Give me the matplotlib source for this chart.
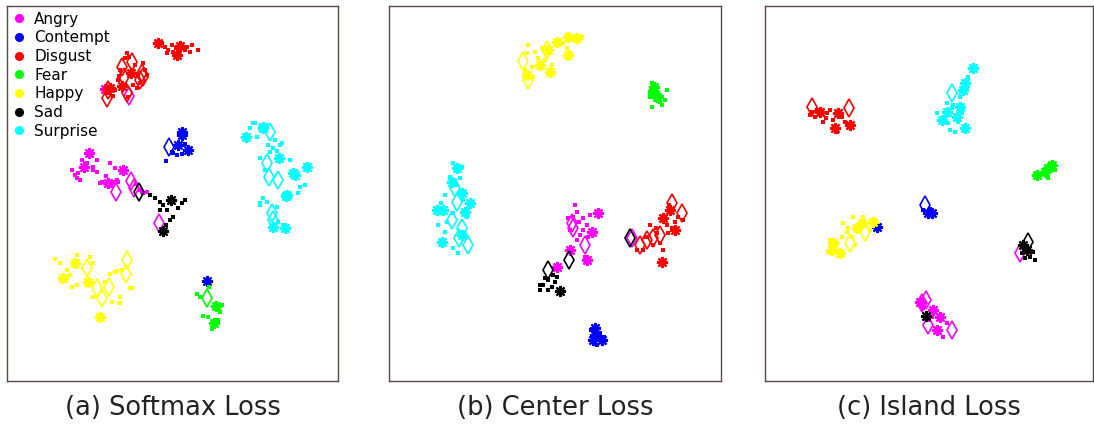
import matplotlib
matplotlib.use("Agg")
import matplotlib.pyplot as plt
from matplotlib.lines import Line2D

classes = ["Angry", "Contempt", "Disgust", "Fear", "Happy", "Sad", "Surprise"]
colors = ["#ff00ff", "#0000ff", "#ff0000", "#00ff00", "#ffff00", "#000000", "#00ffff"]
titles = ["(a) Softmax Loss", "(b) Center Loss", "(c) Island Loss"]

# 2-D embedding (x to the right, y downwards)
# --- (a) softmax loss ---
softmax_dot = {
    "Angry": [(72, 170), (75, 175), (80, 180), (97, 160), (93, 167), (100, 183), (110, 163),
              (115, 168), (118, 182), (140, 190), (143, 193), (78, 173), (97, 172), (87, 163),
              (117, 180), (77, 178), (93, 170), (102, 182), (113, 182), (142, 192), (147, 192),
              (82, 160), (106, 176), (111, 186), (136, 184)],
    "Contempt": [(173, 153), (177, 155), (182, 154), (166, 161), (172, 152), (185, 144)],
    "Disgust": [(165, 47), (168, 50), (172, 45), (187, 47), (192, 45), (198, 50), (173, 52),
                (185, 50), (162, 43), (167, 53), (127, 53), (125, 58), (120, 70), (118, 80),
                (135, 65), (143, 63), (140, 83), (137, 88), (133, 85), (108, 93), (115, 90),
                (128, 97), (147, 75), (129, 57), (119, 76), (145, 70), (138, 76), (176, 48),
                (190, 52), (113, 96)],
    "Fear": [(197, 294), (200, 297), (209, 287), (222, 305), (220, 312), (203, 316), (208, 317),
             (212, 329), (218, 320)],
    "Happy": [(55, 259), (60, 263), (67, 270), (77, 255), (90, 257), (93, 263), (72, 287),
              (115, 272), (122, 270), (110, 274), (130, 288), (120, 297), (120, 303), (112, 302),
              (93, 297), (77, 285), (117, 271), (132, 288), (119, 303), (70, 275), (105, 282)],
    "Sad": [(150, 195), (155, 198), (160, 202), (163, 205), (167, 210), (173, 217), (182, 203),
            (185, 200), (160, 210), (170, 220), (178, 208), (166, 225)],
    "Surprise": [(253, 123), (257, 137), (260, 158), (275, 140), (280, 145), (273, 148), (270, 152),
                 (300, 187), (305, 185), (298, 193), (263, 198), (260, 203), (267, 202), (278, 222),
                 (283, 225), (265, 170), (277, 151), (282, 143), (255, 123), (307, 165), (260, 205),
                 (250, 128), (268, 145), (290, 160), (277, 207)],
}
softmax_star = {
    "Angry": [(89, 153), (84, 167), (123, 170), (108, 183), (105, 89)],
    "Contempt": [(182, 132), (182, 135), (178, 145), (188, 150), (207, 281)],
    "Disgust": [(158, 43), (180, 46), (177, 55), (131, 73), (122, 86), (110, 88)],
    "Fear": [(216, 306), (214, 323)],
    "Happy": [(75, 263), (63, 278), (88, 282), (100, 317)],
    "Sad": [(171, 200), (163, 231)],
    "Surprise": [(246, 137), (263, 128), (279, 158), (295, 175), (287, 195), (273, 227),
                 (285, 228), (307, 167), (263, 127), (293, 173), (286, 196)],
}
softmax_diam = {
    "Angry": [(131, 181), (116, 192), (134, 188), (129, 96), (159, 223)],
    "Contempt": [(169, 147)],
    "Disgust": [(132, 62), (122, 67), (124, 77), (142, 73), (140, 80), (108, 90), (107, 98),
                (127, 93), (143, 77)],
    "Fear": [(207, 298)],
    "Happy": [(87, 268), (127, 260), (126, 274), (97, 288), (109, 287), (102, 298)],
    "Sad": [(139, 192)],
    "Surprise": [(270, 132), (267, 163), (269, 177), (278, 180), (272, 213), (273, 220)],
}

# --- (b) center loss ---
center_dot = {
    "Angry": [(575, 205), (577, 212), (568, 218), (583, 218), (587, 225), (580, 235), (588, 237),
              (577, 240), (583, 230), (585, 257), (573, 217), (590, 215), (570, 230), (579, 222)],
    "Contempt": [(591, 330), (600, 333), (597, 345), (604, 337)],
    "Disgust": [(650, 225), (667, 225), (678, 217), (683, 220), (668, 233), (657, 233), (660, 243),
                (663, 250), (637, 250), (643, 250), (653, 245), (675, 222), (669, 205),
                (646, 237), (656, 228), (672, 228)],
    "Fear": [(652, 83), (653, 90), (650, 97), (657, 100), (662, 97), (667, 90), (665, 100),
             (652, 107), (662, 105), (658, 93), (655, 88), (660, 102), (650, 92)],
    "Happy": [(528, 45), (527, 53), (535, 52), (542, 48), (532, 67), (552, 65), (563, 43),
              (567, 48), (570, 53), (538, 58), (525, 70), (533, 77), (582, 37), (545, 60)],
    "Sad": [(540, 290), (543, 285), (548, 280), (553, 275), (555, 282), (552, 287), (545, 278),
            (540, 285), (548, 290), (557, 277)],
    "Surprise": [(453, 163), (462, 167), (450, 177), (460, 178), (445, 195), (463, 200), (438, 225),
                 (445, 232), (453, 248), (458, 253), (467, 217), (447, 222), (453, 213),
                 (456, 185), (441, 203)],
}
center_star = {
    "Angry": [(598, 213), (592, 232), (570, 250), (587, 260), (557, 267)],
    "Contempt": [(595, 328), (593, 340), (602, 340), (595, 335)],
    "Disgust": [(663, 218), (675, 230), (662, 262), (670, 210)],
    "Fear": [(653, 93), (657, 97), (654, 87)],
    "Happy": [(557, 42), (577, 38), (568, 37), (540, 65), (550, 72), (568, 55), (548, 50), (527, 75)],
    "Sad": [(560, 291)],
    "Surprise": [(457, 168), (452, 182), (462, 193), (437, 210), (443, 210), (470, 203), (465, 212),
                 (442, 242), (462, 235)],
}
center_diam = {
    "Angry": [(573, 228), (585, 245), (572, 223), (632, 238)],
    "Contempt": [],
    "Disgust": [(672, 203), (640, 245), (653, 238), (647, 240), (660, 235), (682, 213)],
    "Fear": [],
    "Happy": [(523, 61), (528, 80), (547, 50)],
    "Sad": [(569, 260), (548, 270), (630, 238)],
    "Surprise": [(455, 188), (457, 202), (452, 220), (462, 228), (468, 245), (459, 238)],
}

# --- (c) island loss ---
island_dot = {
    "Angry": [(943, 337), (932, 317), (947, 323), (938, 333), (923, 308), (929, 320)],
    "Contempt": [(923, 210), (930, 209)],
    "Disgust": [(810, 115), (815, 117), (823, 122), (830, 110), (833, 120), (842, 117), (837, 132),
                (817, 110), (827, 113), (845, 122), (812, 112), (826, 118)],
    "Fear": [(1048, 178), (1055, 170), (1042, 173)],
    "Happy": [(828, 252), (842, 237), (847, 232), (853, 217), (863, 217), (843, 223), (852, 237),
              (855, 245), (837, 243), (860, 228), (870, 230), (830, 240), (835, 247), (848, 228)],
    "Sad": [(1030, 257), (1035, 260), (1033, 252), (1022, 253), (1025, 258)],
    "Surprise": [(968, 77), (967, 87), (960, 97), (952, 108), (948, 123), (955, 132), (937, 113),
                 (950, 130), (958, 122), (953, 105), (962, 113), (947, 103), (944, 117)],
}
island_star = {
    "Angry": [(920, 302), (933, 310), (940, 317), (937, 330)],
    "Contempt": [(928, 213), (932, 213), (877, 227)],
    "Disgust": [(850, 125), (835, 128), (820, 112), (838, 113)],
    "Fear": [(1037, 175), (1048, 168), (1052, 165), (1045, 172)],
    "Happy": [(833, 243), (840, 253), (862, 223), (873, 222), (857, 228), (832, 250)],
    "Sad": [(1023, 245), (1027, 250), (926, 316)],
    "Surprise": [(973, 68), (965, 83), (963, 90), (960, 107), (957, 117), (965, 128), (942, 120),
                 (947, 112)],
}
island_diam = {
    "Angry": [(926, 300), (928, 325), (952, 330), (922, 303), (1020, 253)],
    "Contempt": [(925, 205)],
    "Disgust": [(812, 107), (849, 108)],
    "Fear": [],
    "Happy": [(850, 243), (865, 232)],
    "Sad": [(1028, 242)],
    "Surprise": [(952, 93)],
}

panels = [(softmax_dot, softmax_star, softmax_diam),
          (center_dot, center_star, center_diam),
          (island_dot, island_star, island_diam)]
extents = [(7, 338), (389, 721), (765, 1093)]
top, bottom = 6, 381
W, H = 1094, 424

fig = plt.figure(figsize=(W / 100, H / 100), dpi=100)
for (dots, stars, diams), (x0, x1), title in zip(panels, extents, titles):
    ax = fig.add_axes([x0 / W, 1 - bottom / H, (x1 - x0) / W, (bottom - top) / H])
    for name, col in zip(classes, colors):
        pts = dots[name]
        if pts:
            ax.plot([p[0] for p in pts], [p[1] for p in pts], "s", color=col, ms=2.2, mew=0)
        pts = stars[name]
        if pts:
            ax.plot([p[0] for p in pts], [p[1] for p in pts], marker=(8, 2, 0), ls="none",
                    color=col, ms=8, mew=1.6)
        pts = diams[name]
        if pts:
            ax.plot([p[0] for p in pts], [p[1] for p in pts], "d", ls="none", mfc="none",
                    mec=col, ms=9, mew=1.2)
    ax.set_xlim(x0, x1)
    ax.set_ylim(bottom, top)
    ax.set_xticks([])
    ax.set_yticks([])
    for s in ax.spines.values():
        s.set_color("#5a4848")
        s.set_linewidth(1.0)
    fig.text((x0 + x1) / 2 / W, 1 - 408 / H, title, ha="center", va="center",
             fontsize=18.5, color="#222222")
    if title.startswith("(a)"):
        handles = [Line2D([], [], marker="o", ls="none", color=c, ms=5.5) for c in colors]
        ax.legend(handles, classes, loc="upper left", frameon=False, fontsize=11,
                  labelspacing=0.24, handletextpad=0.6, borderaxespad=0.0,
                  handlelength=0.8, borderpad=0.38)

fig.savefig("out.png", dpi=100)
